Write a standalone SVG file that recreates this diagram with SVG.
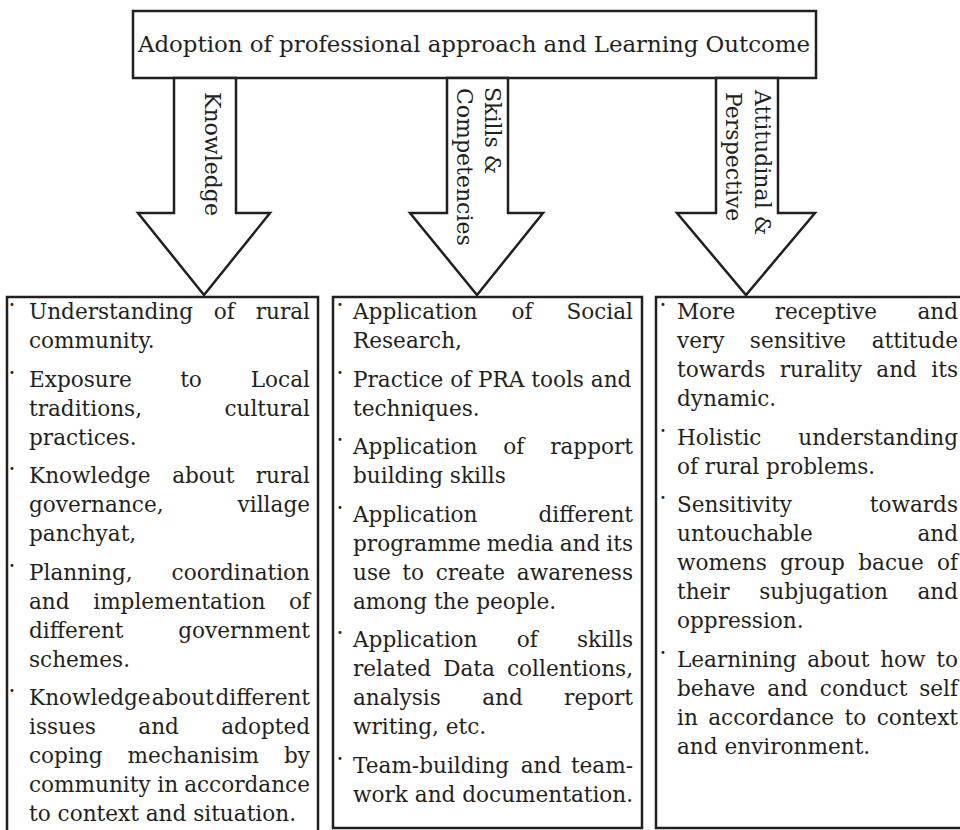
<svg xmlns="http://www.w3.org/2000/svg" width="960" height="830" viewBox="0 0 960 830">
<style>
.t{font-family:"DejaVu Serif","Liberation Serif",serif;font-size:21.6px;fill:#231f20}
.m{text-anchor:middle}
.e{text-anchor:end}
.b{font-family:"DejaVu Sans",sans-serif;font-size:10px;fill:#231f20;text-anchor:middle}
.lab{font-family:"DejaVu Serif","Liberation Serif",serif;font-size:22px;fill:#231f20}
.ttl{font-family:"DejaVu Serif","Liberation Serif",serif;font-size:22.9px;fill:#231f20}
.box{fill:#fff;stroke:#231f20;stroke-width:2.5}
.arr{fill:#fff;stroke:#231f20;stroke-width:2.5;stroke-linejoin:miter}
</style>
<rect width="960" height="830" fill="#fff"/>

<g id="title">
<rect class="box" x="133" y="11" width="683" height="67"/>
<text class="ttl" x="138" y="52" textLength="672" lengthAdjust="spacing">Adoption of professional approach and Learning Outcome</text>
</g>

<g id="connectors">
<g id="arrow-knowledge">
<polygon class="arr" points="174,78 236,78 236,213 270,213 204,295 138,213 174,213"/>
<text class="lab" transform="translate(205,92) rotate(90)">Knowledge</text>
</g>
<g id="arrow-skills">
<polygon class="arr" points="447,78 508,78 508,213 543,213 477,295 410,213 447,213"/>
<text class="lab" transform="translate(485,87) rotate(90)">Skills &amp;</text>
<text class="lab" transform="translate(457,88) rotate(90)">Competencies</text>
</g>
<g id="arrow-attitudinal">
<polygon class="arr" points="716,78 778,78 778,213 815,213 746,295 677,213 716,213"/>
<text class="lab" transform="translate(755,90) rotate(90)">Attitudinal &amp;</text>
<text class="lab" transform="translate(726,92) rotate(90)">Perspective</text>
</g>
</g>

<g id="box-knowledge">
<rect class="box" x="7" y="297" width="311" height="545"/>
<text class="b" x="12" y="308">•</text>
<text class="b" x="12" y="375.5">•</text>
<text class="b" x="12" y="472">•</text>
<text class="b" x="12" y="568.5">•</text>
<text class="b" x="12" y="694">•</text>
<text class="t" x="29" y="319">Understanding</text><text class="t m" x="224.2" y="319">of</text><text class="t e" x="310" y="319">rural</text>
<text class="t" x="29" y="348">community.</text>
<text class="t" x="29" y="386.5">Exposure</text><text class="t m" x="191" y="386.5">to</text><text class="t e" x="310" y="386.5">Local</text>
<text class="t" x="29" y="415.5">traditions,</text><text class="t e" x="310" y="415.5">cultural</text>
<text class="t" x="29" y="444.5">practices.</text>
<text class="t" x="29" y="483">Knowledge</text><text class="t m" x="203.3" y="483">about</text><text class="t e" x="310" y="483">rural</text>
<text class="t" x="29" y="512">governance,</text><text class="t e" x="310" y="512">village</text>
<text class="t" x="29" y="541">panchyat,</text>
<text class="t" x="29" y="579.5">Planning,</text><text class="t e" x="310" y="579.5">coordination</text>
<text class="t" x="29" y="608.5">and</text><text class="t m" x="179.3" y="608.5">implementation</text><text class="t e" x="310" y="608.5">of</text>
<text class="t" x="29" y="637.5">different</text><text class="t e" x="310" y="637.5">government</text>
<text class="t" x="29" y="666.5">schemes.</text>
<text class="t" x="29" y="705">Knowledge</text><text class="t m" x="182.8" y="705">about</text><text class="t e" x="310" y="705">different</text>
<text class="t" x="29" y="734">issues</text><text class="t m" x="158.6" y="734">and</text><text class="t e" x="310" y="734">adopted</text>
<text class="t" x="29" y="763">coping</text><text class="t m" x="193.3" y="763">mechanisim</text><text class="t e" x="310" y="763">by</text>
<text class="t" x="29" y="792">community</text><text class="t m" x="167.7" y="792">in</text><text class="t e" x="310" y="792">accordance</text>
<text class="t" x="29" y="821">to context and situation.</text>
</g>

<g id="box-skills">
<rect class="box" x="333" y="297" width="309" height="531"/>
<text class="b" x="340" y="308">•</text>
<text class="b" x="340" y="375.5">•</text>
<text class="b" x="340" y="443">•</text>
<text class="b" x="340" y="510.5">•</text>
<text class="b" x="340" y="636">•</text>
<text class="b" x="340" y="761.5">•</text>
<text class="t" x="353" y="319">Application</text><text class="t m" x="522" y="319">of</text><text class="t e" x="633" y="319">Social</text>
<text class="t" x="353" y="348">Research,</text>
<text class="t" x="353" y="386.5">Practice of PRA tools and</text>
<text class="t" x="353" y="415.5">techniques.</text>
<text class="t" x="353" y="454">Application</text><text class="t m" x="513.8" y="454">of</text><text class="t e" x="633" y="454">rapport</text>
<text class="t" x="353" y="483">building skills</text>
<text class="t" x="353" y="521.5">Application</text><text class="t e" x="633" y="521.5">different</text>
<text class="t" x="353" y="550.5">programme</text><text class="t m" x="520.3" y="550.5">media</text><text class="t m" x="580" y="550.5">and</text><text class="t e" x="633" y="550.5">its</text>
<text class="t" x="353" y="579.5">use</text><text class="t m" x="413.2" y="579.5">to</text><text class="t m" x="470.4" y="579.5">create</text><text class="t e" x="633" y="579.5">awareness</text>
<text class="t" x="353" y="608.5">among the people.</text>
<text class="t" x="353" y="647">Application</text><text class="t m" x="527.3" y="647">of</text><text class="t e" x="633" y="647">skills</text>
<text class="t" x="353" y="676">related</text><text class="t m" x="469" y="676">Data</text><text class="t e" x="633" y="676">collentions,</text>
<text class="t" x="353" y="705">analysis</text><text class="t m" x="502.5" y="705">and</text><text class="t e" x="633" y="705">report</text>
<text class="t" x="353" y="734">writing, etc.</text>
<text class="t" x="353" y="772.5">Team-building</text><text class="t m" x="541" y="772.5">and</text><text class="t e" x="633" y="772.5">team-</text>
<text class="t" x="353" y="801.5">work and documentation.</text>
</g>

<g id="box-attitudinal">
<rect class="box" x="656" y="297" width="310" height="531"/>
<text class="b" x="663" y="308">•</text>
<text class="b" x="663" y="433.5">•</text>
<text class="b" x="663" y="501">•</text>
<text class="b" x="663" y="655.5">•</text>
<text class="t" x="677" y="319">More</text><text class="t m" x="825.9" y="319">receptive</text><text class="t e" x="958" y="319">and</text>
<text class="t" x="677" y="348">very</text><text class="t m" x="798" y="348">sensitive</text><text class="t e" x="958" y="348">attitude</text>
<text class="t" x="677" y="377">towards</text><text class="t m" x="820.8" y="377">rurality</text><text class="t m" x="896.6" y="377">and</text><text class="t e" x="958" y="377">its</text>
<text class="t" x="677" y="406">dynamic.</text>
<text class="t" x="677" y="444.5">Holistic</text><text class="t e" x="958" y="444.5">understanding</text>
<text class="t" x="677" y="473.5">of rural problems.</text>
<text class="t" x="677" y="512">Sensitivity</text><text class="t e" x="958" y="512">towards</text>
<text class="t" x="677" y="541">untouchable</text><text class="t e" x="958" y="541">and</text>
<text class="t" x="677" y="570">womens</text><text class="t m" x="812.5" y="570">group</text><text class="t m" x="891" y="570">bacue</text><text class="t e" x="958" y="570">of</text>
<text class="t" x="677" y="599">their</text><text class="t m" x="823.5" y="599">subjugation</text><text class="t e" x="958" y="599">and</text>
<text class="t" x="677" y="628">oppression.</text>
<text class="t" x="677" y="666.5">Learnining</text><text class="t m" x="838.3" y="666.5">about</text><text class="t m" x="902.9" y="666.5">how</text><text class="t e" x="958" y="666.5">to</text>
<text class="t" x="677" y="695.5">behave</text><text class="t m" x="787.6" y="695.5">and</text><text class="t m" x="863.6" y="695.5">conduct</text><text class="t e" x="958" y="695.5">self</text>
<text class="t" x="677" y="724.5">in</text><text class="t m" x="771.2" y="724.5">accordance</text><text class="t m" x="855.4" y="724.5">to</text><text class="t e" x="958" y="724.5">context</text>
<text class="t" x="677" y="753.5">and environment.</text>
</g>
</svg>
